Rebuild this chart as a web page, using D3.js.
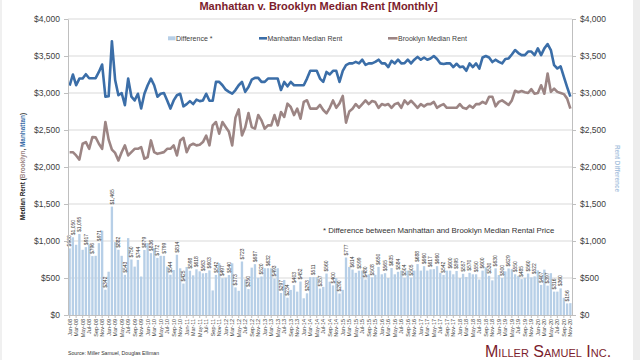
<!DOCTYPE html>
<html><head><meta charset="utf-8">
<script src="https://cdn.jsdelivr.net/npm/d3@7"></script>
<style>
body{margin:0;background:#fff}
svg{display:block}
text{font-family:"Liberation Sans",Arial,sans-serif}
</style>
</head><body>
<svg width="640" height="360"></svg>
<script>
const monthNames = ["Jan","Feb","Mar","Apr","May","Jun","Jul","Aug","Sep","Oct","Nov","Dec"];
const years = ["08","09","10","11","12","13","14","15","16","17","18","19","20"];
const categories = years.flatMap(yr => monthNames.map(m => m + "-" + yr)).slice(0, 155);

const manhattan = [
3100,3250,3105,3195,3195,3254,3200,3200,3200,3285,
3385,2950,2955,3700,3175,2970,3000,2835,3195,2950,
2900,2990,2790,2990,3105,3195,3105,2950,2990,3000,
2900,2790,2900,2970,2990,2820,2850,2890,2850,2910,
2890,2900,2990,2895,2895,3150,3150,3105,3045,3015,
2990,3040,3105,3150,3015,3080,3180,3205,3205,3150,
3150,3195,3195,3195,3195,3040,3150,3090,3150,3105,
3105,3105,3105,3195,3300,3300,3300,3195,3150,3285,
3250,3300,3300,3150,3300,3377,3400,3400,3420,3400,
3450,3380,3400,3400,3420,3450,3400,3400,3350,3435,
3400,3450,3400,3404,3450,3400,3450,3488,3450,3480,
3450,3467,3500,3460,3400,3392,3400,3400,3350,3395,
3350,3357,3300,3400,3350,3400,3330,3480,3500,3480,
3418,3450,3420,3400,3460,3467,3520,3580,3540,3512,
3512,3560,3560,3512,3603,3512,3603,3661,3580,3376,
3331,3360,3218,3080,2950];

const brooklyn = [
2200,2200,2156,2100,2314,2337,2246,2404,2400,2314,
2246,2608,2370,2235,2190,2088,2200,2292,2156,2200,
2246,2246,2270,2111,2133,2359,2201,2178,2190,2201,
2246,2246,2292,2156,2359,2395,2201,2292,2314,2292,
2300,2337,2423,2292,2563,2608,2450,2608,2540,2475,
2292,2667,2778,2427,2533,2730,2540,2518,2702,2630,
2518,2563,2563,2702,2563,2743,2676,2856,2811,2702,
2789,2653,2879,2902,2789,2789,2789,2838,2770,2725,
2800,2900,2800,2860,2960,2600,2750,2786,2850,2801,
2850,2900,2850,2892,2877,2800,2850,2835,2850,2800,
2850,2866,2800,2900,2850,2895,2850,2800,2850,2820,
2850,2850,2880,2800,2830,2850,2800,2800,2800,2800,
2850,2800,2786,2830,2800,2850,2850,2880,2855,2950,
2950,2820,2880,2900,2870,2838,2900,3030,3010,3027,
3010,3000,3052,2990,3000,3105,2990,3264,3015,3060,
3015,3000,2985,2924,2790];

const difference = [
900,1050,949,1095,881,917,954,796,800,971,
1139,342,585,1465,985,882,800,543,1039,750,
654,744,520,879,972,836,904,772,800,799,
654,544,608,814,631,425,649,598,536,618,
590,563,567,603,332,542,700,497,505,540,
698,373,327,723,482,350,640,687,503,520,
632,632,632,493,632,297,474,234,339,403,
316,452,226,293,511,511,511,357,380,560,
450,400,500,290,340,777,650,614,570,599,
600,480,550,508,543,650,550,565,500,635,
550,584,600,504,600,505,600,688,600,660,
600,617,620,660,570,542,600,600,550,595,
500,557,514,570,550,550,480,600,645,530,
468,630,540,500,590,629,620,550,530,485,
502,560,508,522,603,407,613,397,565,316,
316,360,233,156,160];

const yTicks = [0,500,1000,1500,2000,2500,3000,3500,4000];

const C_BAR = "#b7cfe7", C_MAN = "#3b6ea8", C_BRK = "#9c8584", C_TXT = "#404040", C_AX = "#bfbfbf", C_TITLE = "#7b1c2c";

const svg = d3.select("svg");
const X0 = 68, X1 = 572, Y0 = 315, Y1 = 19;

svg.append("rect").attr("x", 633).attr("y", 0).attr("width", 7).attr("height", 360).attr("fill", "#ededed");
svg.append("rect").attr("x", 0).attr("y", 0).attr("width", 2).attr("height", 360).attr("fill", "#f0f0f0");

const x = d3.scaleBand().domain(categories).range([X0, X1]).paddingInner(0.28).paddingOuter(0.14);
const y = d3.scaleLinear().domain([0, 4000]).range([Y0, Y1]);
const bw = x.bandwidth();
const cx = c => x(c) + bw / 2;

svg.append("g").selectAll("line").data(yTicks.filter(d => d > 0)).join("line")
  .attr("x1", X0).attr("x2", X1).attr("y1", d => y(d)).attr("y2", d => y(d))
  .attr("stroke", "#d9d9d9").attr("stroke-width", 1);

svg.append("g").selectAll("rect").data(difference).join("rect")
  .attr("x", (d, i) => x(categories[i])).attr("width", bw)
  .attr("y", d => y(d)).attr("height", d => Y0 - y(d))
  .attr("fill", C_BAR);

const fmt = d => "$" + d3.format(",")(Math.round(d));
svg.append("g").selectAll("text").data(difference.map((d, i) => ({d, i})).filter(o => o.i % 2 === 1 || o.i === 0)).join("text")
  .attr("transform", o => `translate(${cx(categories[o.i])},${y(o.d) - 2}) rotate(-90)`)
  .attr("dy", "0.35em").attr("font-size", 5).attr("fill", "#333")
  .text(o => fmt(o.d));

const line = d3.line().x((d, i) => cx(categories[i])).y(d => y(d)).curve(d3.curveLinear);
svg.append("path").datum(brooklyn).attr("d", line).attr("fill", "none")
  .attr("stroke", C_BRK).attr("stroke-width", 2.6).attr("stroke-linejoin", "round");
svg.append("path").datum(manhattan).attr("d", line).attr("fill", "none")
  .attr("stroke", C_MAN).attr("stroke-width", 2.6).attr("stroke-linejoin", "round");

const dollar = d => "$" + d3.format(",")(d);
function styleAxis(g) {
  g.selectAll(".domain").attr("stroke", C_AX);
  g.selectAll(".tick line").attr("stroke", C_AX);
  g.selectAll(".tick text").attr("fill", C_TXT).attr("font-family", '"Liberation Sans",Arial,sans-serif');
}
svg.append("g").attr("transform", `translate(${X0},0)`)
  .call(d3.axisLeft(y).tickValues(yTicks).tickFormat(dollar).tickSize(4).tickPadding(4).tickSizeOuter(0))
  .call(styleAxis).call(g => g.selectAll(".tick text").attr("font-size", 8.5));
svg.append("g").attr("transform", `translate(${X1},0)`)
  .call(d3.axisRight(y).tickValues(yTicks).tickFormat(dollar).tickSize(4).tickPadding(4).tickSizeOuter(0))
  .call(styleAxis).call(g => g.selectAll(".tick text").attr("font-size", 8.5));
const xAx = svg.append("g").attr("transform", `translate(0,${Y0})`)
  .call(d3.axisBottom(x).tickValues(categories.filter((d, i) => i % 2 === 0)).tickSize(3).tickSizeOuter(0))
  .call(styleAxis);
xAx.selectAll(".tick text").attr("font-size", 5.5)
  .attr("transform", "rotate(-90)").attr("text-anchor", "end")
  .attr("x", -4).attr("y", 0).attr("dy", "0.35em");

svg.append("text").attr("x", 318.5).attr("y", 9.5).attr("text-anchor", "middle")
  .attr("font-size", 11).attr("font-weight", "bold").attr("fill", C_TITLE)
  .text("Manhattan v. Brooklyn Median Rent [Monthly]");

const lg = svg.append("g").attr("font-size", 7).attr("fill", C_TXT);
lg.append("rect").attr("x", 168).attr("y", 36.3).attr("width", 7.5).attr("height", 4).attr("fill", C_BAR);
lg.append("text").attr("x", 176).attr("y", 40.5).text("Difference *");
lg.append("line").attr("x1", 259).attr("x2", 267).attr("y1", 38.3).attr("y2", 38.3).attr("stroke", C_MAN).attr("stroke-width", 2.6);
lg.append("text").attr("x", 267.5).attr("y", 40.5).text("Manhattan Median Rent");
lg.append("line").attr("x1", 388).attr("x2", 397.5).attr("y1", 38.3).attr("y2", 38.3).attr("stroke", C_BRK).attr("stroke-width", 2.6);
lg.append("text").attr("x", 398).attr("y", 40.5).text("Brooklyn Median Rent");

svg.append("text").attr("x", 323).attr("y", 232.5).attr("font-size", 7.8).attr("fill", "#333")
  .text("* Difference between Manhattan and Brooklyn Median Rental Price");

const lt = svg.append("text").attr("transform", "translate(24.5,166.5) rotate(-90)")
  .attr("text-anchor", "middle").attr("font-size", 6.4).attr("font-weight", "bold").attr("fill", "#222");
lt.append("tspan").text("Median Rent (");
lt.append("tspan").attr("fill", C_BRK).text("Brooklyn");
lt.append("tspan").text(", ");
lt.append("tspan").attr("fill", C_MAN).text("Manhattan");
lt.append("tspan").text(")");

svg.append("text").attr("transform", "translate(614.5,168.5) rotate(90)")
  .attr("text-anchor", "middle").attr("font-size", 6.4).attr("font-weight", "bold").attr("fill", "#a9c3de")
  .text("Rent Difference");

svg.append("text").attr("x", 68).attr("y", 355).attr("font-size", 5.2).attr("fill", "#333")
  .text("Source: Miller Samuel, Douglas Elliman");

svg.append("text").attr("x", 485).attr("y", 356.5).attr("font-size", 16)
  .attr("font-family", '"Liberation Serif","Times New Roman",serif').attr("font-variant", "small-caps")
  .attr("fill", C_TITLE).text("Miller Samuel Inc.");
</script>
</body></html>
